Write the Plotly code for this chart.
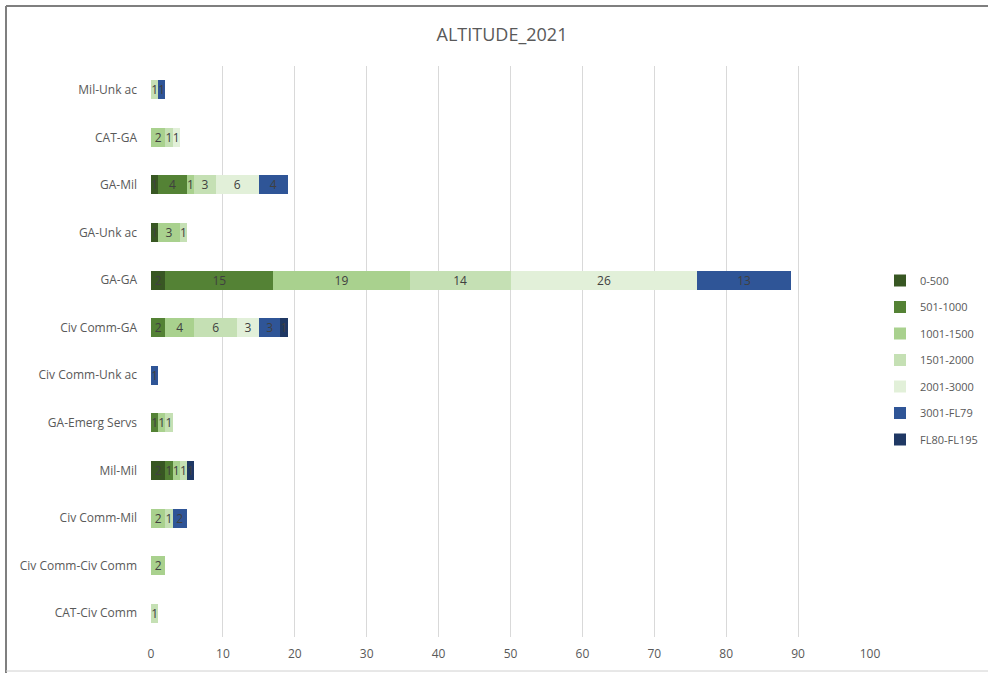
import plotly.graph_objects as go

# Encounter pairings, listed top to bottom
categories = [
    "Mil-Unk ac", "CAT-GA", "GA-Mil", "GA-Unk ac", "GA-GA", "Civ Comm-GA",
    "Civ Comm-Unk ac", "GA-Emerg Servs", "Mil-Mil", "Civ Comm-Mil",
    "Civ Comm-Civ Comm", "CAT-Civ Comm",
]

# Counts per altitude band (None = no occurrences)
alt_0_500      = [None, None, 1,    1,    2,  None, None, None, 2,    None, None, None]
alt_501_1000   = [None, None, 4,    None, 15, 2,    None, 1,    1,    None, None, None]
alt_1001_1500  = [None, 2,    1,    3,    19, 4,    None, 1,    1,    2,    2,    None]
alt_1501_2000  = [1,    1,    3,    1,    14, 6,    None, 1,    1,    1,    None, 1]
alt_2001_3000  = [None, 1,    6,    None, 26, 3,    None, None, None, None, None, None]
alt_3001_fl79  = [1,    None, 4,    None, 13, 3,    1,    None, None, 2,    None, None]
alt_fl80_fl195 = [None, None, None, None, None, 1,  None, None, 1,    None, None, None]

band_names = ["0-500", "501-1000", "1001-1500", "1501-2000", "2001-3000",
              "3001-FL79", "FL80-FL195"]
band_values = [alt_0_500, alt_501_1000, alt_1001_1500, alt_1501_2000,
               alt_2001_3000, alt_3001_fl79, alt_fl80_fl195]
band_colors = ["#385723", "#548235", "#a9d18e", "#c5e0b4", "#e2f0d9",
               "#2f5597", "#1f3864"]

x_ticks = [0, 10, 20, 30, 40, 50, 60, 70, 80, 90, 100]

FONT = "Open Sans"
GREY = "#595959"

# plot-area geometry in pixels
W, H = 988, 673
L, R, T, B = 151, 118, 66, 36
PW, PH = W - L - R, H - T - B


def px_x(px):
    return (px - L) / PW


def px_y(py):
    return (H - B - py) / PH


fig = go.Figure()
for name, vals, color in zip(band_names, band_values, band_colors):
    fig.add_trace(go.Bar(
        name=name,
        legendgroup=name,
        y=categories,
        x=vals,
        orientation="h",
        marker=dict(color=color, line=dict(width=0)),
        text=[("" if v is None else str(v)) for v in vals],
        textposition="inside",
        insidetextanchor="middle",
        textangle=0,
        constraintext="none",
        textfont=dict(family=FONT, size=12, color="#404040"),
        hoverinfo="x+y+name",
    ))

fig.update_layout(
    width=W, height=H,
    barmode="stack",
    bargap=0.6,
    paper_bgcolor="white",
    plot_bgcolor="white",
    margin=dict(l=L, r=R, t=T, b=B, autoexpand=False),
    uniformtext=dict(minsize=12, mode="show"),
    title=dict(
        text="ALTITUDE_2021",
        x=502 / W, xref="container", xanchor="center",
        y=1 - 35 / H, yanchor="middle",
        font=dict(family=FONT, size=18, color=GREY),
    ),
    xaxis=dict(
        range=[0, 100],
        tickvals=x_ticks,
        ticktext=[str(t) for t in x_ticks],
        showgrid=True, gridcolor="#d9d9d9", gridwidth=1,
        zeroline=False, showline=False,
        ticks="", ticklabelstandoff=8,
        tickfont=dict(family=FONT, size=12, color=GREY),
        fixedrange=True,
    ),
    yaxis=dict(
        autorange="reversed",
        showgrid=False, zeroline=False, showline=False,
        ticks="", ticklabelstandoff=13,
        tickfont=dict(family=FONT, size=12, color=GREY),
    ),
    legend=dict(
        xref="container", yref="container",
        x=880 / W, xanchor="left",
        y=1 - 266 / H, yanchor="top",
        traceorder="grouped",
        font=dict(family=FONT, size=11, color=GREY),
        itemwidth=30,
        tracegroupgap=7.5,
        bgcolor="rgba(0,0,0,0)",
    ),
    shapes=[
        # chart frame
        dict(type="line", xref="paper", yref="paper",
             x0=px_x(6), x1=px_x(6), y0=px_y(6), y1=px_y(673),
             line=dict(color="#7f7f7f", width=2)),
        dict(type="line", xref="paper", yref="paper",
             x0=px_x(6), x1=px_x(988), y0=px_y(6), y1=px_y(6),
             line=dict(color="#7f7f7f", width=2)),
        dict(type="line", xref="paper", yref="paper",
             x0=px_x(6), x1=px_x(988), y0=px_y(671), y1=px_y(671),
             line=dict(color="#d0d0d0", width=1)),
    ],
)

fig.write_html("out.html")
